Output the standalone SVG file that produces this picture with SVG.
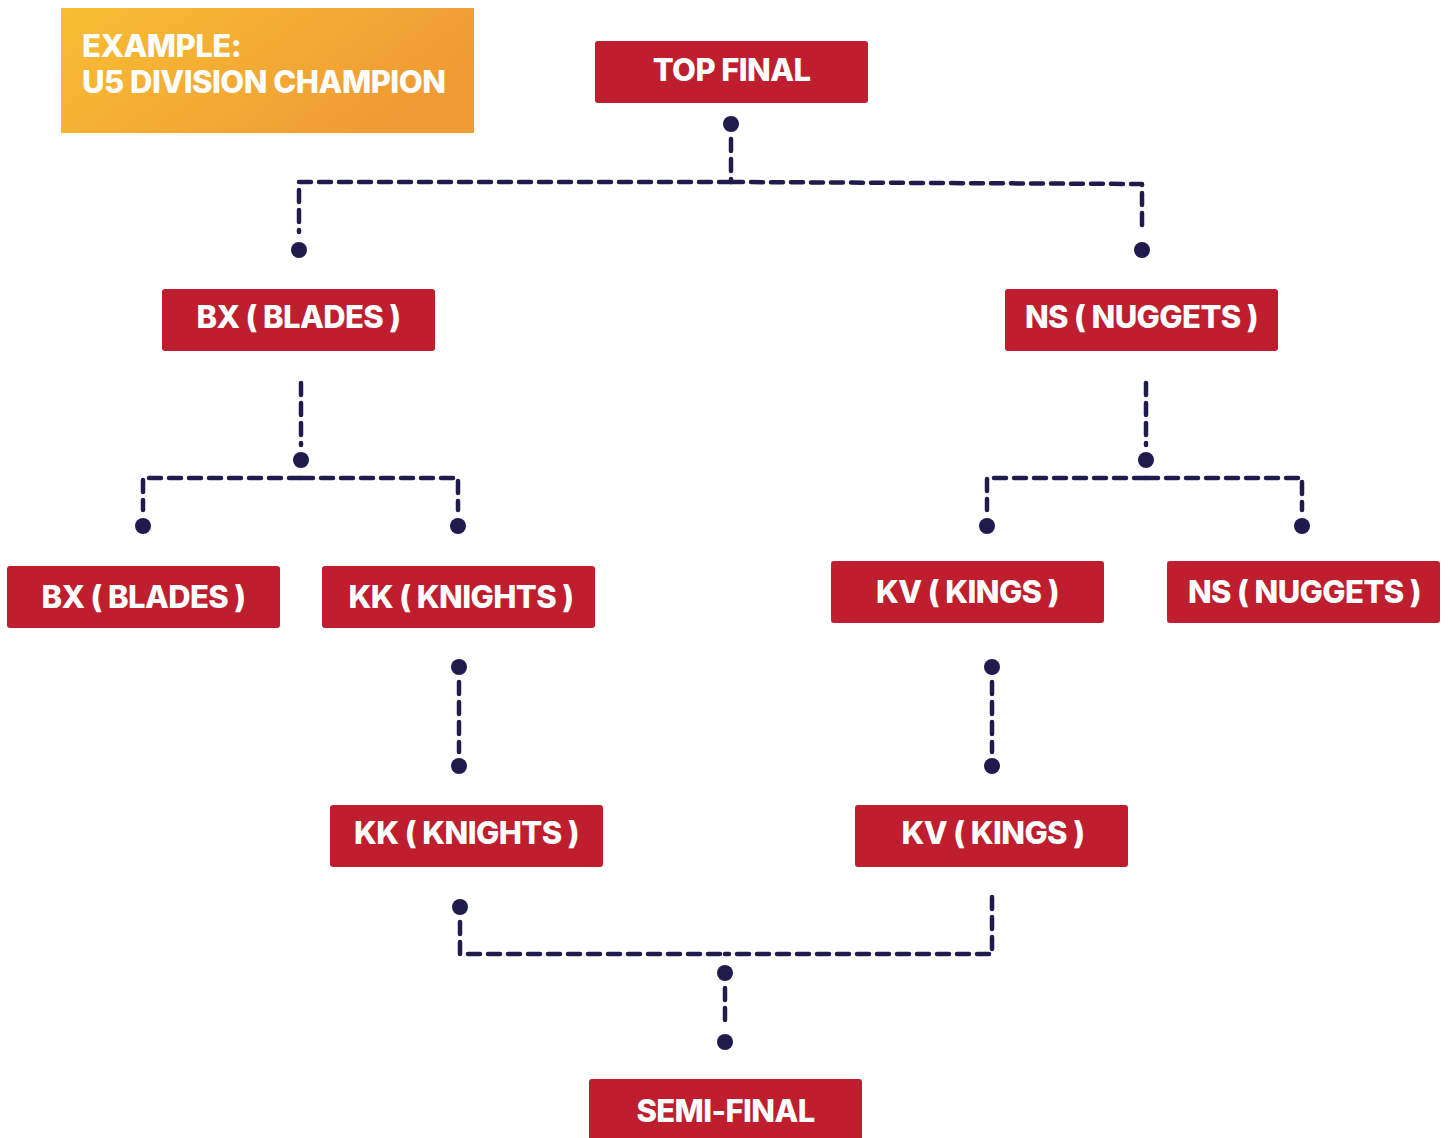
<svg xmlns="http://www.w3.org/2000/svg" width="1450" height="1138" viewBox="0 0 1450 1138">
  <defs>
    <linearGradient id="og" x1="0" y1="0" x2="1" y2="0.4">
      <stop offset="0" stop-color="#F8BE33"/>
      <stop offset="1" stop-color="#F09B35"/>
    </linearGradient>
  </defs>
  <style>
    .box { fill: #BE1E2D; }
    .lbl { fill: #FFFFFF; font-family: Inter, "Liberation Sans", sans-serif; font-weight: 800; font-size: 31px; text-anchor: middle; letter-spacing: -0.6px; }
    .hdr { fill: #FFFFFF; font-family: Inter, "Liberation Sans", sans-serif; font-weight: 800; font-size: 31px; letter-spacing: -0.5px; }
    .ln { fill: none; stroke: #1F1B4D; stroke-width: 4.5; stroke-dasharray: 12 8; stroke-linecap: round; stroke-linejoin: round; }
    .dot { fill: #1F1B4D; }
  </style>
  <rect width="1450" height="1138" fill="#FFFFFF"/>

  <g id="example">
    <rect x="61" y="8" width="413" height="125" fill="url(#og)"/>
    <text class="hdr" x="82" y="57">EXAMPLE:</text>
    <text class="hdr" x="82" y="93">U5 DIVISION CHAMPION</text>
  </g>

  <g id="connectors">
    <!-- top -->
    <circle class="dot" cx="731" cy="124" r="8"/>
    <path class="ln" d="M731 139 V182"/>
    <path class="ln" d="M731 182 H299 V232"/>
    <path class="ln" d="M731 182 L1142 184 V232"/>
    <circle class="dot" cx="299" cy="250" r="8"/>
    <circle class="dot" cx="1142" cy="250" r="8"/>
    <!-- left subtree -->
    <path class="ln" d="M301 383 V445"/>
    <circle class="dot" cx="301" cy="460" r="8"/>
    <path class="ln" d="M301 478 H143 V510"/>
    <path class="ln" d="M301 478 H458 V510"/>
    <circle class="dot" cx="143" cy="526" r="8"/>
    <circle class="dot" cx="458" cy="526" r="8"/>
    <!-- right subtree -->
    <path class="ln" d="M1146 383 V445"/>
    <circle class="dot" cx="1146" cy="460" r="8"/>
    <path class="ln" d="M1146 478 H987 V510"/>
    <path class="ln" d="M1146 478 H1302 V510"/>
    <circle class="dot" cx="987" cy="526" r="8"/>
    <circle class="dot" cx="1302" cy="526" r="8"/>
    <!-- middle -->
    <circle class="dot" cx="459" cy="667" r="8"/>
    <path class="ln" d="M459 682 V752"/>
    <circle class="dot" cx="459" cy="766" r="8"/>
    <circle class="dot" cx="992" cy="667" r="8"/>
    <path class="ln" d="M992 682 V752"/>
    <circle class="dot" cx="992" cy="766" r="8"/>
    <!-- bottom -->
    <circle class="dot" cx="460" cy="907" r="8"/>
    <path class="ln" d="M460 922 V954 H725"/>
    <path class="ln" d="M992 897 V954 H725"/>
    <circle class="dot" cx="725" cy="973" r="8"/>
    <path class="ln" d="M725 988 V1028"/>
    <circle class="dot" cx="725" cy="1042" r="8"/>
  </g>

  <g id="top-final">
    <rect class="box" x="595" y="41" width="273" height="62" rx="3"/>
    <text class="lbl" x="731.5" y="81">TOP FINAL</text>
  </g>
  <g id="bx-blades-1">
    <rect class="box" x="162" y="289" width="273" height="62" rx="3"/>
    <text class="lbl" x="298.5" y="328">BX ( BLADES )</text>
  </g>
  <g id="ns-nuggets-1">
    <rect class="box" x="1005" y="289" width="273" height="62" rx="3"/>
    <text class="lbl" x="1141.5" y="328">NS ( NUGGETS )</text>
  </g>
  <g id="bx-blades-2">
    <rect class="box" x="7" y="566" width="273" height="62" rx="3"/>
    <text class="lbl" x="143.5" y="608">BX ( BLADES )</text>
  </g>
  <g id="kk-knights-1">
    <rect class="box" x="322" y="566" width="273" height="62" rx="3"/>
    <text class="lbl" x="461" y="608">KK ( KNIGHTS )</text>
  </g>
  <g id="kv-kings-1">
    <rect class="box" x="831" y="561" width="273" height="62" rx="3"/>
    <text class="lbl" x="967.5" y="603">KV ( KINGS )</text>
  </g>
  <g id="ns-nuggets-2">
    <rect class="box" x="1167" y="561" width="273" height="62" rx="3"/>
    <text class="lbl" x="1304.5" y="603">NS ( NUGGETS )</text>
  </g>
  <g id="kk-knights-2">
    <rect class="box" x="330" y="805" width="273" height="62" rx="3"/>
    <text class="lbl" x="466.5" y="844">KK ( KNIGHTS )</text>
  </g>
  <g id="kv-kings-2">
    <rect class="box" x="855" y="805" width="273" height="62" rx="3"/>
    <text class="lbl" x="993" y="844">KV ( KINGS )</text>
  </g>
  <g id="semi-final">
    <rect class="box" x="589" y="1079" width="273" height="70" rx="3"/>
    <text class="lbl" x="725.5" y="1122">SEMI-FINAL</text>
  </g>
</svg>
